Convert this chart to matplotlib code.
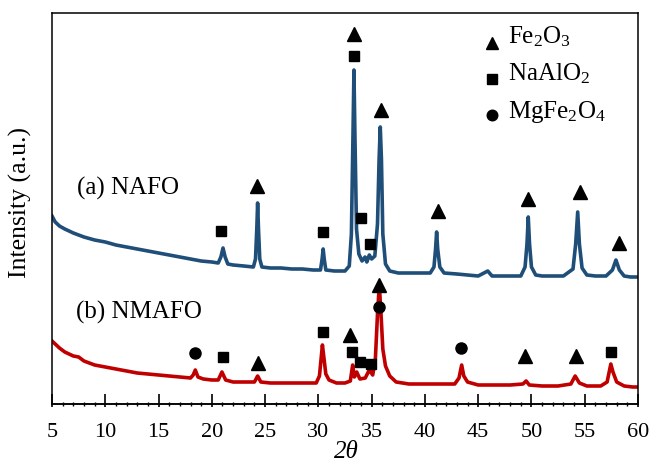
import matplotlib
matplotlib.use("Agg")
import matplotlib.pyplot as plt
from matplotlib.ticker import MultipleLocator, NullLocator

plt.rcParams['font.family'] = ['Liberation Serif', 'DejaVu Serif']
plt.rcParams['mathtext.fontset'] = 'custom'
plt.rcParams['mathtext.rm'] = 'Liberation Serif'
plt.rcParams['mathtext.it'] = 'Liberation Serif:italic'

# ---- data (intensity in arbitrary units, curves already offset) ----
nafo_x = [5.0, 5.3, 5.7, 6.2, 7.0, 8.0, 9.0, 10.0, 11.0, 12.0, 13.0, 14.0, 15.0, 16.0, 17.0,
          18.0, 19.0, 20.0, 20.6, 20.85, 21.05, 21.25, 21.5, 22.0, 23.0, 23.9, 24.1, 24.22,
          24.3, 24.38, 24.5, 24.7, 25.5, 26.5, 27.5, 28.5, 29.5, 30.2, 30.35, 30.45, 30.55,
          30.7, 31.5, 32.5, 32.9, 33.1, 33.25, 33.34, 33.43, 33.58, 33.8, 34.1, 34.38, 34.55,
          34.78, 35.0, 35.3, 35.55, 35.7, 35.81, 35.92, 36.05, 36.3, 36.7, 37.5, 38.5, 39.5,
          40.5, 40.85, 41.0, 41.1, 41.2, 41.4, 41.8, 43.0, 44.0, 45.0, 45.9, 46.3, 47.0, 48.0,
          49.0, 49.4, 49.58, 49.7, 49.82, 50.0, 50.4, 51.0, 52.0, 53.0, 53.9, 54.15, 54.34,
          54.5, 54.75, 55.2, 56.0, 57.0, 57.6, 57.93, 58.25, 58.7, 59.3, 60.0]
nafo_y = [188, 182, 178, 175, 171, 167, 164, 162, 159, 157, 155, 153, 151, 149, 147,
          145, 143, 142, 141, 147, 156, 147, 140, 139, 138, 137, 145, 175,
          201, 175, 145, 137, 136, 136, 135, 135, 134, 134, 145, 155, 145,
          134, 133, 133, 138, 170, 270, 334, 270, 175, 150, 143, 147, 142,
          149, 145, 148, 180, 245, 277, 245, 170, 140, 133, 131, 131, 131,
          131, 137, 155, 172, 155, 137, 131, 130, 129, 128, 133, 128, 128, 128,
          128, 137, 160, 187, 160, 137, 129, 128, 128, 128, 135, 160, 192,
          160, 136, 129, 128, 128, 134, 144, 134, 128, 127, 127]

nmafo_x = [5.0, 5.3, 5.7, 6.2, 7.0, 7.5, 8.0, 9.0, 10.0, 11.0, 12.0, 13.0, 14.0, 15.0, 16.0,
           17.0, 18.0, 18.25, 18.45, 18.7, 19.2, 20.0, 20.6, 20.95, 21.3, 22.0, 23.0, 24.0,
           24.3, 24.6, 25.5, 27.0, 28.5, 29.8, 30.1, 30.3, 30.38, 30.48, 30.7, 31.0, 31.7,
           32.5, 33.0, 33.22, 33.38, 33.6, 33.9, 34.4, 34.78, 35.1, 35.35, 35.55, 35.72,
           35.88, 36.05, 36.3, 36.7, 37.3, 38.5, 40.0, 41.5, 42.8, 43.2, 43.45, 43.65, 44.0,
           45.0, 46.5, 48.0, 49.2, 49.5, 49.8, 51.0, 52.5, 53.7, 54.1, 54.5, 55.2, 56.5,
           57.1, 57.45, 57.65, 58.0, 58.7, 59.5, 60.0]
nmafo_y = [63, 60, 56, 52, 48, 47, 43, 39, 37, 35, 33, 31, 30, 29, 28,
           27, 26, 29, 34, 27, 25, 24, 24, 32, 24, 22, 22, 22,
           28, 22, 21, 21, 21, 21, 28, 50, 59, 50, 30, 24, 21,
           21, 23, 39, 27, 32, 25, 26, 34, 29, 45, 90, 119,
           90, 55, 38, 28, 22, 20, 20, 20, 20, 26, 39, 28, 22,
           19, 19, 19, 20, 23, 19, 18, 18, 20, 28, 21, 18, 18,
           22, 40, 32, 22, 18, 17, 17]

# phase markers: (2theta, height)
nafo_tri_x = [24.24, 33.34, 35.85, 41.2, 49.65, 54.55, 58.24]
nafo_tri_y = [218, 370, 294, 193, 205, 212, 161]
nafo_sq_x = [20.86, 30.43, 33.34, 33.97, 34.85]
nafo_sq_y = [173, 172, 348, 186, 160]

nmafo_tri_x = [24.3, 32.97, 35.72, 49.39, 54.18]
nmafo_tri_y = [41, 69, 119, 48, 48]
nmafo_sq_x = [21.02, 30.4, 33.13, 33.9, 34.91, 57.43]
nmafo_sq_y = [47, 72, 52, 42, 40, 52]
nmafo_circ_x = [18.42, 35.72, 43.39]
nmafo_circ_y = [51, 97, 56]

legend_labels = ['Fe$_2$O$_3$', 'NaAlO$_2$', 'MgFe$_2$O$_4$']
legend_markers = ['^', 's', 'o']
legend_y = [361, 325, 289]
legend_text_y = [361, 324, 286]

x_ticks = [5, 10, 15, 20, 25, 30, 35, 40, 45, 50, 55, 60]

blue = '#1f4e79'
red = '#c00000'

fig = plt.figure(figsize=(6.52, 4.65), dpi=100)
ax = fig.add_axes([52/652, 1-404/465, 586/652, 391/465])

ax.plot(nafo_x, nafo_y, color=blue, lw=2.6, solid_joinstyle='round')
ax.plot(nmafo_x, nmafo_y, color=red, lw=2.6, solid_joinstyle='round')

msize = {'^': 9.5, 's': 7.3, 'o': 8.0}
ax.plot(nafo_tri_x, nafo_tri_y, '^', color='black', ms=msize['^'], ls='none')
ax.plot(nafo_sq_x, nafo_sq_y, 's', color='black', ms=msize['s'], ls='none')
ax.plot(nmafo_tri_x, nmafo_tri_y, '^', color='black', ms=msize['^'], ls='none')
ax.plot(nmafo_sq_x, nmafo_sq_y, 's', color='black', ms=msize['s'], ls='none')
ax.plot(nmafo_circ_x, nmafo_circ_y, 'o', color='black', ms=msize['o'], ls='none')

for lab, mk, my, ty in zip(legend_labels, legend_markers, legend_y, legend_text_y):
    ax.plot([46.27], [my], mk, color='black', ms=msize[mk] * 0.95, ls='none')
    ax.text(47.8, ty, lab, fontsize=18, ha='left', va='baseline')

ax.text(7.35, 209, '(a) NAFO', fontsize=18, ha='left', va='baseline')
ax.text(7.25, 85, '(b) NMAFO', fontsize=18, ha='left', va='baseline')

ax.set_xlim(5, 60)
ax.set_ylim(0, 391)
ax.set_xticks(x_ticks)
ax.xaxis.set_minor_locator(MultipleLocator(1))
ax.set_yticks([])
ax.tick_params(axis='x', which='major', direction='in', length=7, width=1.2,
               labelsize=16, pad=13.5)
ax.tick_params(axis='x', which='minor', direction='inout', length=3.2, width=1.0)
for sp in ax.spines.values():
    sp.set_linewidth(1.1)

sec = ax.secondary_xaxis('bottom')
sec.set_xticks(x_ticks)
sec.xaxis.set_minor_locator(NullLocator())
sec.tick_params(axis='x', which='major', direction='out', length=2.3, width=1.2,
                labelbottom=False)
sec.spines['bottom'].set_linewidth(1.1)

fig.text(346/652, 1-452/465, '2θ', fontsize=18, style='italic', ha='center', va='center')
fig.text(20/652, 1-203/465, 'Intensity (a.u.)', fontsize=18.5, rotation=90,
         ha='center', va='center')

fig.savefig('out.png', dpi=100)
